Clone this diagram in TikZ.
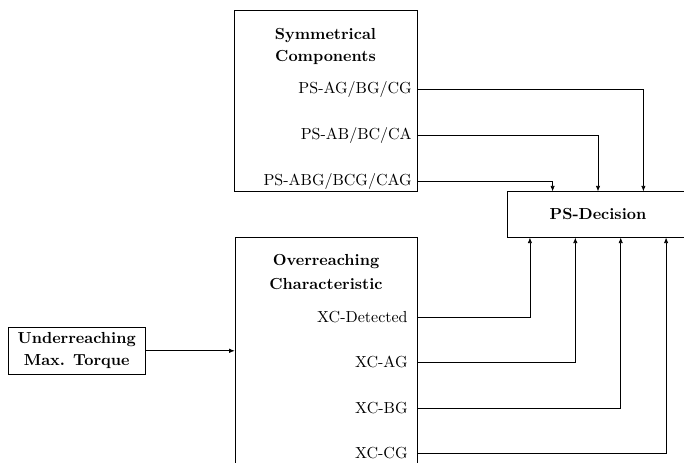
\documentclass[tikz,border=0pt]{standalone}
\usepackage{amsmath}
\usepackage{tikz}
\usetikzlibrary{positioning, arrows.meta, calc}

\begin{document}
\begin{tikzpicture}[
    x=0.625pt, y=-0.625pt,
    blocknode/.style={rectangle, draw=black, font=\bfseries, align=center},
    titlenode/.style={font=\bfseries, align=center},
    psnode/.style={anchor=east},
    xcnode/.style={anchor=east, inner xsep=5.9pt},
    link/.style={-{Latex[length=3.4pt, width=2.7pt]}},
]
\useasboundingbox (0,0) rectangle (684,462);
\clip (0,0) rectangle (684,462);
\node[blocknode, minimum width=114.4pt, minimum height=113.1pt](sym) at (325.5,100.5){};
\node[titlenode, below=8.3pt of sym.north](symtitle){Symmetrical\\[1.4pt]Components};
\node[blocknode, minimum width=113.75pt, minimum height=145.5pt](over) at (326,353.6){};
\node[titlenode, below=7.5pt of over.north](overtitle){Overreaching\\[3pt]Characteristic};
\node[blocknode, minimum width=113.1pt, minimum height=28.5pt](dec) at (598,214.5){PS-Decision};
\node[blocknode, minimum width=85.5pt, minimum height=28.1pt](under) at (76.7,350.8){Underreaching\\[1.75pt]Max. Torque};

\node[psnode](psag) at (sym.east |- 0,89.3){PS-AG/BG/CG};
\node[psnode](psab) at (sym.east |- 0,135){PS-AB/BC/CA};
\node[psnode](psabg) at (sym.east |- 0,181){PS-ABG/BCG/CAG};
\node[xcnode](xcdet) at (over.east |- 0,317.3){XC-Detected};
\node[xcnode](xcag) at (over.east |- 0,362.3){XC-AG};
\node[xcnode](xcbg) at (over.east |- 0,408.3){XC-BG};
\node[xcnode](xccg) at (over.east |- 0,453.3){XC-CG};

\coordinate (dn1) at ($(dec.north west)!0.25!(dec.north east)$);
\coordinate (dn2) at ($(dec.north west)!0.5!(dec.north east)$);
\coordinate (dn3) at ($(dec.north west)!0.75!(dec.north east)$);
\coordinate (ds1) at ($(dec.south west)!0.125!(dec.south east)$);
\coordinate (ds2) at ($(dec.south west)!0.375!(dec.south east)$);
\coordinate (ds3) at ($(dec.south west)!0.625!(dec.south east)$);
\coordinate (ds4) at ($(dec.south west)!0.875!(dec.south east)$);

\draw[link] (psag.east) -| (dn3);
\draw[link] (psab.east) -| (dn2);
\draw[link] (psabg.east) -| (dn1);
\draw[link] (xcdet.east) -| (ds1);
\draw[link] (xcag.east) -| (ds2);
\draw[link] (xcbg.east) -| (ds3);
\draw[link] (xccg.east) -| (ds4);
\draw[link] (under.east) -- (under.east -| over.west);
\end{tikzpicture}
\end{document}
